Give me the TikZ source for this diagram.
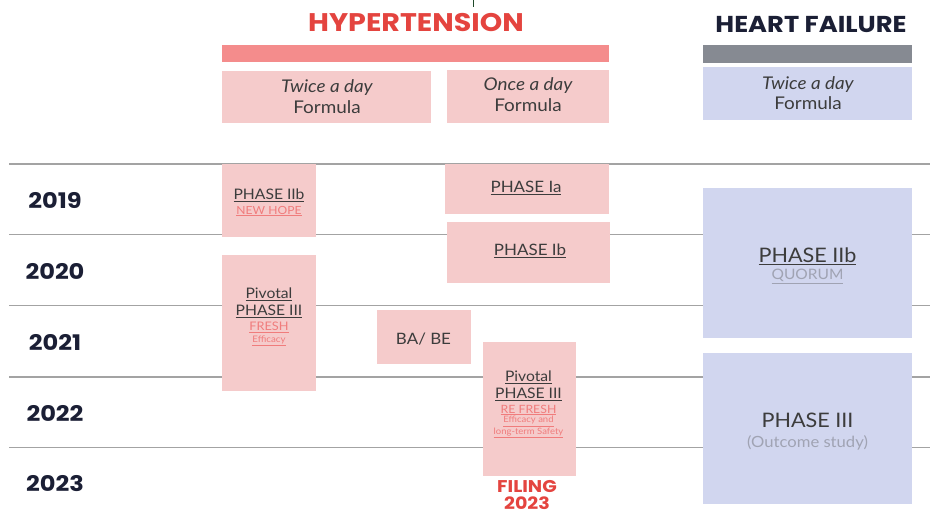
\documentclass[tikz,border=0pt]{standalone}
\usepackage{fontspec}
\setmainfont{Lato}[FakeStretch=1.08]
\newfontfamily\headfont{Poppins}[BoldFont={* Bold},FakeStretch=1.12]
\definecolor{pinkbox}{HTML}{F5CBCB}
\definecolor{pinkbar}{HTML}{F48C8C}
\definecolor{redhead}{HTML}{E4443F}
\definecolor{bluebox}{HTML}{D1D6EF}
\definecolor{graybar}{HTML}{868A92}
\definecolor{navy}{HTML}{1B1F35}
\definecolor{linkpink}{HTML}{F07C7C}
\definecolor{rulegray}{HTML}{A3A3A3}
\definecolor{txt}{HTML}{3C3C3C}
\definecolor{lightgray}{HTML}{A0A3B3}
\definecolor{tickgreen}{HTML}{1F4A2A}
\tikzset{
  pbox/.style={fill=pinkbox, draw=none, anchor=north west, inner sep=0pt},
  bbox/.style={fill=bluebox, draw=none, anchor=north west, inner sep=0pt},
  head/.style={inner sep=0pt},
  year/.style={font=\headfont\bfseries\fontsize{21.5}{23}\selectfont, text=navy, inner sep=0pt},
  lbl/.style={text=txt, inner sep=0pt},
  link/.style={text=linkpink, inner sep=0pt},
  grid/.style={draw=rulegray, line width=1.3pt},
}
\begin{document}
\begin{tikzpicture}[x=1pt,y=-1pt]
\useasboundingbox[fill=white] (0,0) rectangle (930,515);
% horizontal year lines
\foreach \yy/\n in {164/a,234.5/b,305.5/c,377/d,447.5/e}{
  \coordinate (l\n) at (9,\yy);
  \coordinate (r\n) at (930,\yy);
  \draw[grid] (l\n) -- (r\n);
}
% tick at top
\coordinate (tk1) at (473.5,0);
\coordinate (tk2) at (473.5,7);
\draw[tickgreen, line width=1.2pt] (tk1) -- (tk2);

% headers
\node[head, font=\headfont\bfseries\fontsize{25.5}{27}\selectfont, text=redhead] (hyp) at (416,23) {HYPERTENSION};
\node[head, font=\headfont\bfseries\fontsize{23}{25}\selectfont, text=navy] (hf) at (811,25) {HEART FAILURE};
\node[fill=pinkbar, anchor=north west, inner sep=0pt, minimum width=387, minimum height=17] (hbar) at (222,45) {};
\node[fill=graybar, anchor=north west, inner sep=0pt, minimum width=209, minimum height=18] (gbar) at (703,44.5) {};

% formula boxes
\node[pbox, minimum width=209, minimum height=52] (tw) at (222,70.5) {};
\node[pbox, minimum width=162, minimum height=53] (on) at (447,69.5) {};
\node[bbox, minimum width=209, minimum height=53] (hftw) at (703,66.5) {};
\node[lbl, font=\itshape\fontsize{17.5}{19}\selectfont] (twt) at (327,87.5) {Twice a day};
\node[lbl, font=\fontsize{17.5}{19}\selectfont] (twf) at (327,107) {Formula};
\node[lbl, font=\itshape\fontsize{17.5}{19}\selectfont] (ont) at (528,86) {Once a day};
\node[lbl, font=\fontsize{17.5}{19}\selectfont] (onf) at (528,105) {Formula};
\node[lbl, font=\itshape\fontsize{17.5}{19}\selectfont] (hft) at (808,85) {Twice a day};
\node[lbl, font=\fontsize{17.5}{19}\selectfont] (hff) at (808,103.5) {Formula};

% years
\node[year] (y19) at (55,200) {2019};
\node[year] (y20) at (55,271) {2020};
\node[year] (y21) at (55,342) {2021};
\node[year] (y22) at (55,413) {2022};
\node[year] (y23) at (55,484) {2023};

% hypertension boxes
\node[pbox, minimum width=94, minimum height=73] (p2b) at (222,164) {};
\node[lbl, font=\fontsize{14.5}{17}\selectfont] (p2bt) at (269,195) {\underline{PHASE IIb}};
\node[link, font=\fontsize{11.2}{12}\selectfont] (p2bs) at (269,211) {\underline{NEW HOPE}};

\node[pbox, minimum width=164, minimum height=50] (p1a) at (444.5,164) {};
\node[lbl, font=\fontsize{15.7}{18}\selectfont] (p1at) at (526,188) {\underline{PHASE Ia}};

\node[pbox, minimum width=163, minimum height=61] (p1b) at (446.5,222) {};
\node[lbl, font=\fontsize{15.7}{18}\selectfont] (p1bt) at (530,251) {\underline{PHASE Ib}};

\node[pbox, minimum width=94, minimum height=136] (piv) at (222,255) {};
\node[lbl, font=\fontsize{14.5}{17}\selectfont] (pivt1) at (269,294) {\underline{Pivotal}};
\node[lbl, font=\fontsize{14.5}{17}\selectfont] (pivt2) at (269,311.5) {\underline{PHASE III}};
\node[link, font=\fontsize{11.8}{12}\selectfont] (pivs1) at (269,327.5) {\underline{FRESH}};
\node[link, font=\fontsize{9}{10}\selectfont] (pivs2) at (269,340.5) {\underline{Efficacy}};

\node[pbox, minimum width=94, minimum height=54] (babe) at (377,310) {};
\node[lbl, font=\fontsize{15.7}{18}\selectfont] (babet) at (423.5,339) {BA/ BE};

\node[pbox, minimum width=93.5, minimum height=134] (rf) at (482.5,342) {};
\node[lbl, font=\fontsize{14.5}{17}\selectfont] (rft1) at (528.5,377) {\underline{Pivotal}};
\node[lbl, font=\fontsize{14.5}{17}\selectfont] (rft2) at (528.5,394) {\underline{PHASE III}};
\node[link, font=\fontsize{11.4}{12}\selectfont] (rfs1) at (528.5,410) {\underline{RE FRESH}};
\node[link, font=\fontsize{8.8}{9}\selectfont] (rfs2) at (528.5,421.5) {\underline{Efficacy and}};
\node[link, font=\fontsize{8.8}{9}\selectfont] (rfs3) at (528.5,433) {\underline{long-term Safety}};

\node[font=\headfont\bfseries\fontsize{17}{18}\selectfont, text=redhead, inner sep=0pt] (fil1) at (527,486) {FILING};
\node[font=\headfont\bfseries\fontsize{17}{18}\selectfont, text=redhead, inner sep=0pt] (fil2) at (527,503) {2023};

% heart failure boxes
\node[bbox, minimum width=209, minimum height=149.5] (hf2b) at (703,188) {};
\node[lbl, font=\fontsize{20}{22}\selectfont] (hf2bt) at (807.5,256) {\underline{PHASE IIb}};
\node[text=lightgray, inner sep=0pt, font=\fontsize{14.4}{16}\selectfont] (hf2bs) at (807.5,276.5) {\underline{QUORUM}};

\node[bbox, minimum width=209, minimum height=150.5] (hf3) at (703,353) {};
\node[lbl, font=\fontsize{20}{22}\selectfont] (hf3t) at (807.5,420.5) {PHASE III};
\node[text=lightgray, inner sep=0pt, font=\fontsize{15.4}{17}\selectfont] (hf3s) at (807.5,443) {(Outcome study)};
\end{tikzpicture}
\end{document}
